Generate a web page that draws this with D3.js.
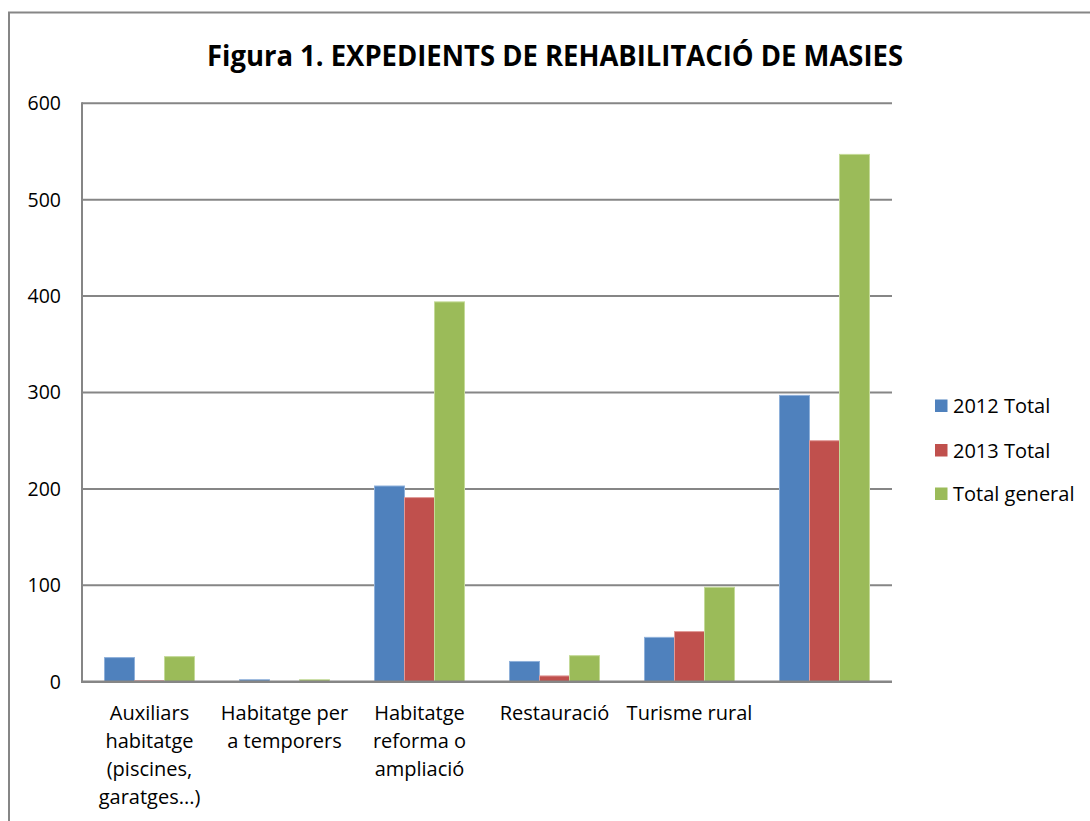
<!DOCTYPE html>
<html>
<head>
<meta charset="utf-8">
<script src="https://cdn.jsdelivr.net/npm/d3@7"></script>
<style>
  html, body { margin: 0; padding: 0; background: #fff; }
  svg text { font-family: "Open Sans", "Noto Sans", sans-serif; fill: #000; }
</style>
</head>
<body>
<svg id="chart" width="1090" height="821"></svg>
<script>
const categories = [
  ["Auxiliars", "habitatge", "(piscines,", "garatges...)"],
  ["Habitatge per", "a temporers"],
  ["Habitatge", "reforma o", "ampliació"],
  ["Restauració"],
  ["Turisme rural"],
  [""]
];
const seriesNames = ["2012 Total", "2013 Total", "Total general"];
const values2012 = [25, 2, 203, 21, 46, 297];
const values2013 = [1, 0, 191, 6, 52, 250];
const valuesTotal = [26, 2, 394, 27, 98, 547];
const yTicks = [0, 100, 200, 300, 400, 500, 600];
const colors = ["#4F81BD", "#C0504D", "#9BBB59"];
const edgeColors = ["#8EB0DA", "#E09A98", "#C4DA98"];

const seriesValues = [values2012, values2013, valuesTotal];
const svg = d3.select("#chart");

// outer frame (left and top edges visible)
svg.append("path")
  .attr("d", "M9,830 L9,12.5 L1100,12.5")
  .attr("fill", "none").attr("stroke", "#868686").attr("stroke-width", 2);

const pLeft = 82, pRight = 892, pTop = 103.3, pBottom = 681.7;

const x0 = d3.scaleBand().domain(d3.range(categories.length)).range([pLeft, pRight]).paddingInner(0).paddingOuter(0);
const groupW = x0.bandwidth();
const barW = groupW / 4.5;
const y = d3.scaleLinear().domain([0, 600]).range([pBottom, pTop]);

// gridlines
svg.append("g").selectAll("line").data(yTicks.filter(d => d > 0)).join("line")
  .attr("x1", pLeft).attr("x2", pRight)
  .attr("y1", d => y(d)).attr("y2", d => y(d))
  .attr("stroke", "#868686").attr("stroke-width", 2);

// y tick labels
svg.append("g").selectAll("text").data(yTicks).join("text")
  .attr("x", 61).attr("y", d => y(d)).attr("dy", "0.35em")
  .attr("text-anchor", "end").attr("font-size", 19.5)
  .text(d => d);

// bars
seriesValues.forEach((vals, si) => {
  svg.append("g").selectAll("rect").data(vals).join("rect")
    .attr("x", (d, i) => x0(i) + (groupW - 3 * barW) / 2 + si * barW)
    .attr("y", d => y(d))
    .attr("width", barW)
    .attr("height", d => y(0) - y(d))
    .attr("fill", colors[si])
    .attr("stroke", d => d > 0 ? edgeColors[si] : "none")
    .attr("stroke-width", 1);
});

// axes lines
svg.append("line").attr("x1", pLeft).attr("x2", pLeft).attr("y1", pTop - 1).attr("y2", pBottom + 1)
  .attr("stroke", "#868686").attr("stroke-width", 2);
svg.append("line").attr("x1", pLeft - 1).attr("x2", pRight).attr("y1", pBottom).attr("y2", pBottom)
  .attr("stroke", "#868686").attr("stroke-width", 2.5);

// category labels
const lab = svg.append("g");
categories.forEach((lines, i) => {
  const t = lab.append("text")
    .attr("text-anchor", "middle").attr("font-size", 20)
    .attr("x", x0(i) + groupW / 2).attr("y", 720);
  lines.forEach((ln, k) => {
    t.append("tspan").attr("x", x0(i) + groupW / 2).attr("dy", k === 0 ? 0 : 28).text(ln);
  });
});

// title
svg.append("text")
  .attr("x", 555).attr("y", 66)
  .attr("text-anchor", "middle")
  .attr("font-size", 28).attr("font-weight", "bold")
  .attr("textLength", 696).attr("lengthAdjust", "spacingAndGlyphs")
  .text("Figura 1. EXPEDIENTS DE REHABILITACIÓ DE MASIES");

// legend
const legY = [406, 450.5, 494];
const leg = svg.append("g");
seriesNames.forEach((n, i) => {
  leg.append("rect").attr("x", 935).attr("y", legY[i] - 6.5).attr("width", 12.5).attr("height", 12.5)
    .attr("fill", colors[i]);
  leg.append("text").attr("x", 953).attr("y", legY[i]).attr("dy", "0.35em")
    .attr("font-size", 20).text(n);
});
</script>
</body>
</html>
